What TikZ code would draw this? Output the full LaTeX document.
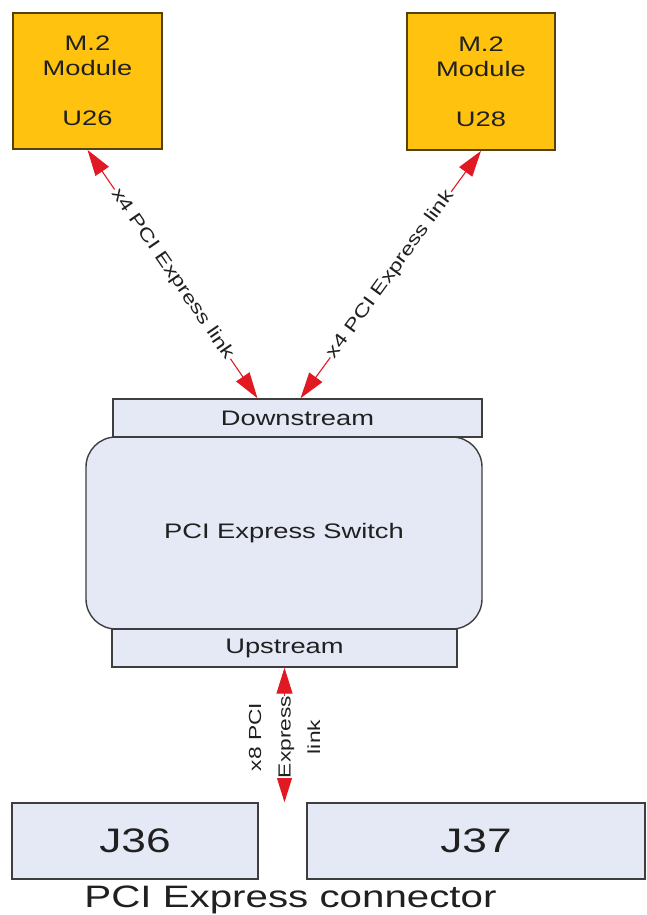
\documentclass[tikz,border=0pt]{standalone}
\usepackage{fontspec}
\setmainfont{Liberation Sans}[FakeStretch=1.3]
\usetikzlibrary{arrows.meta}
\definecolor{mod}{RGB}{255,194,14}
\definecolor{modedge}{RGB}{85,66,10}
\definecolor{blu}{RGB}{228,233,245}
\definecolor{edge}{RGB}{62,62,62}
\definecolor{txt}{RGB}{32,32,32}
\definecolor{lnk}{RGB}{225,25,35}
\begin{document}
\begin{tikzpicture}[x=1pt,y=-1pt,
  modbox/.style={draw=modedge, fill=mod, line width=1.8pt, inner sep=0pt,
    align=center, text=txt, font=\fontsize{21}{25}\selectfont},
  bluebox/.style={draw=edge, fill=blu, line width=1.4pt, inner sep=0pt,
    align=center, text=txt},
  arr/.style={draw=lnk, line width=1.1pt,
    {Triangle[length=26pt,width=16pt]}-{Triangle[length=26pt,width=16pt]}},
  lbl/.style={fill=white, inner sep=1pt, text=txt, font=\fontsize{18}{21}\selectfont},
  vlbl/.style={fill=white, inner sep=0pt, text=txt, rotate=90, align=center,
    font=\fontsize{17.5}{29.5}\selectfont}]
\useasboundingbox (0,0) rectangle (647,915);

% M.2 modules
\node[modbox, minimum width=149pt, minimum height=136pt] (u26) at (87.5,81)
  {M.2\\Module\\[25pt]U26};
\node[modbox, minimum width=148pt, minimum height=137pt] (u28) at (481,81.5)
  {M.2\\Module\\[25pt]U28};

% switch
\node[bluebox, rounded corners=30pt, minimum width=396pt, minimum height=192pt,
  font=\fontsize{21}{25}\selectfont] (sw) at (284,533) {PCI Express Switch};
\node[bluebox, minimum width=369pt, minimum height=38pt,
  font=\fontsize{21}{25}\selectfont] (ds) at (297.5,418) {Downstream};
\node[bluebox, minimum width=345pt, minimum height=38pt,
  font=\fontsize{21}{25}\selectfont] (us) at (284.5,648) {Upstream};

% connectors
\node[bluebox, minimum width=246pt, minimum height=76pt,
  font=\fontsize{34}{40}\selectfont] (j36) at (135,841) {J36};
\node[bluebox, minimum width=338pt, minimum height=76pt,
  font=\fontsize{34}{40}\selectfont] (j37) at (476,841) {J37};
\node[anchor=base, text=txt, font=\fontsize{31}{36}\selectfont] (cap) at (290.5,907)
  {PCI Express connector};

% links
\draw[arr] (u26.south) -- node[lbl, sloped] {x4 PCI Express link} ([xshift=-40pt]ds.north);
\draw[arr] (u28.south) -- node[lbl, sloped] {x4 PCI Express link} ([xshift=3pt]ds.north);
\draw[arr] (us.south) -- node[vlbl, xshift=-2pt] {x8 PCI\\Express\\link} (us.south |- j36.north);
\end{tikzpicture}
\end{document}
